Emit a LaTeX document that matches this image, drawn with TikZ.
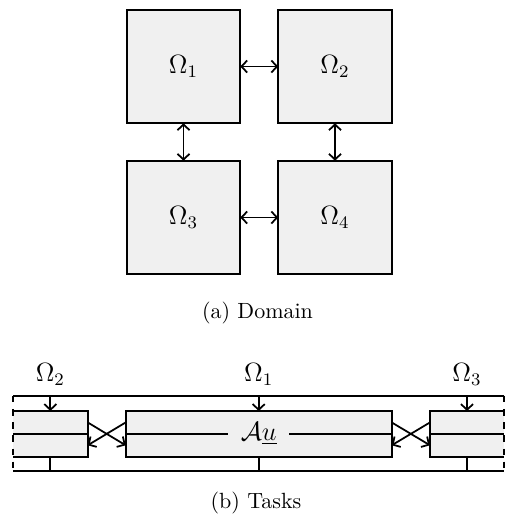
\documentclass[tikz,border=0pt]{standalone}
\usetikzlibrary{calc,arrows.meta}
\definecolor{boxfill}{gray}{0.94}
\begin{document}
\begin{tikzpicture}[x=0.4545pt,y=-0.4545pt,
  ln/.style={line width=0.8pt},
  lab/.style={font=\fontsize{11.5}{13}\selectfont},
  sq/.style={draw,ln,lab,fill=boxfill,inner sep=0pt,outer sep=0pt,minimum width=113.5*0.4545pt,minimum height=113.5*0.4545pt},
  tbox/.style={fill=boxfill,inner sep=0pt,outer sep=0pt,minimum height=45.7*0.4545pt},
  conn/.style={ln,<->},
  >={Straight Barb[length=2.6pt,width=5.5pt]}]
\useasboundingbox (0,0) rectangle (505,514);
% (a) Domain
\node[sq] (o1) at (183.5,66.5) {$\Omega_1$};
\node[sq] (o2) at (335,66.5) {$\Omega_2$};
\node[sq] (o3) at (183.5,217.5) {$\Omega_3$};
\node[sq] (o4) at (335,217.5) {$\Omega_4$};
\draw[conn] (o1) -- (o2);
\draw[conn] (o3) -- (o4);
\draw[conn] (o1) -- (o3);
\draw[conn] (o2) -- (o4);
\node (capa) at (257.5,313) {(a) Domain};
% (b) Tasks
\coordinate (tl) at (13,395.7);
\coordinate (tr) at (504,395.7);
\coordinate (bl) at (13,471);
\coordinate (br) at (504,471);
\node[tbox,minimum width=74.7*0.4545pt] (L) at (50.35,433.85) {};
\node[tbox,minimum width=266*0.4545pt] (M) at (258.7,433.85) {};
\node[tbox,minimum width=74*0.4545pt] (R) at (467,433.85) {};
\draw[ln] (M.north west) rectangle (M.south east);
\draw[ln] (L.north west) -- (L.north east) -- (L.south east) -- (L.south west);
\draw[ln] (R.north east) -- (R.north west) -- (R.south west) -- (R.south east);
\draw[ln] (L.west) -- (L.east);
\draw[ln] (R.west) -- (R.east);
\node[lab,fill=boxfill,inner xsep=12*0.4545pt,inner ysep=1pt] (au) at (M.center) {$\mathcal{A}\underline{u}$};
\draw[ln] (M.west) -- (au.west);
\draw[ln] (au.east) -- (M.east);
\draw[ln] (tl) -- (tr);
\draw[ln] (bl) -- (br);
\draw[ln,dashed] (tl) -- (bl);
\draw[ln,dashed] (tr) -- (br);
\foreach \b in {L,M,R}{
  \draw[ln,->] (\b.north |- tl) -- (\b.north);
  \draw[ln] (\b.south) -- (\b.south |- bl);
}
\draw[ln,->] ($(M.north west)!0.25!(M.south west)$) -- ($(L.north east)!0.75!(L.south east)$);
\draw[ln,->] ($(L.north east)!0.25!(L.south east)$) -- ($(M.north west)!0.75!(M.south west)$);
\draw[ln,->] ($(R.north west)!0.25!(R.south west)$) -- ($(M.north east)!0.75!(M.south east)$);
\draw[ln,->] ($(M.north east)!0.25!(M.south east)$) -- ($(R.north west)!0.75!(R.south west)$);
\node[lab] (l2) at (50.35,374) {$\Omega_2$};
\node[lab] (l1) at (258.7,374) {$\Omega_1$};
\node[lab] (l3) at (467,374) {$\Omega_3$};
\node (capb) at (256,503) {(b) Tasks};
\end{tikzpicture}
\end{document}
